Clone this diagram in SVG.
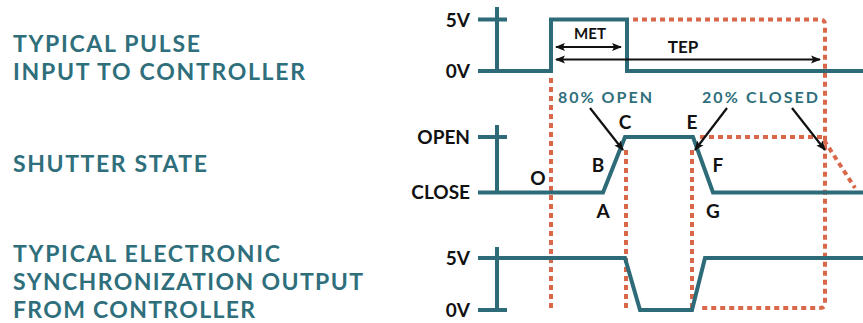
<svg xmlns="http://www.w3.org/2000/svg" width="863" height="323" viewBox="0 0 863 323">
<style>
.ttl{font-family:Lato,"Open Sans",sans-serif;font-weight:bold;font-size:23px;fill:#2f6f7c}
.lvl{font-family:Lato,"Open Sans",sans-serif;font-weight:bold;font-size:19px;fill:#111;text-anchor:end}
.pt{font-family:Lato,"Open Sans",sans-serif;font-weight:bold;font-size:19px;fill:#111;text-anchor:middle}
.sm{font-family:Lato,"Open Sans",sans-serif;font-weight:bold;fill:#111;text-anchor:middle}
.tl{font-family:Lato,"Open Sans",sans-serif;font-weight:bold;font-size:16px;fill:#2f6f7c}
.sig{fill:none;stroke:#2e6b78;stroke-width:4;stroke-linejoin:miter}
.dot{fill:none;stroke:#d9674a;stroke-width:4;stroke-dasharray:5 4}
.arr{fill:none;stroke:#111;stroke-width:2.2}
</style>
<defs>
<marker id="ah" viewBox="0 0 10 10" refX="9" refY="5" markerWidth="4.5" markerHeight="4.5" orient="auto-start-reverse" markerUnits="strokeWidth">
<path d="M0,1 L10,5 L0,9 L2,5 z" fill="#111"/>
</marker>
</defs>
<g id="titles">
<text class="ttl" x="13" y="52" textLength="187">TYPICAL PULSE</text>
<text class="ttl" x="13" y="80" textLength="292">INPUT TO CONTROLLER</text>
<text class="ttl" x="13" y="172" textLength="194">SHUTTER STATE</text>
<text class="ttl" x="13" y="262" textLength="267">TYPICAL ELECTRONIC</text>
<text class="ttl" x="13" y="290" textLength="350">SYNCHRONIZATION OUTPUT</text>
<text class="ttl" x="13" y="318" textLength="242">FROM CONTROLLER</text>
</g>
<g id="levels">
<text class="lvl" x="470" y="27">5V</text>
<text class="lvl" x="470" y="78">0V</text>
<text class="lvl" x="470" y="144">OPEN</text>
<text class="lvl" x="470" y="199">CLOSE</text>
<text class="lvl" x="470" y="265">5V</text>
<text class="lvl" x="470" y="317">0V</text>
</g>
<g id="guides">
<path class="dot" d="M551,78 V310"/>
<path class="dot" d="M626,150 V310"/>
<path class="dot" d="M692,150 V310"/>
<path class="dot" d="M633,19.5 H820 Q825,19.5 825,25 V303 Q825,308 820,308 H700"/>
<path class="dot" d="M700,137 H822 L855,188"/>
</g>
<g id="signals">
<path class="sig" d="M497,7 V71 M478,19.5 H507 M478,71 H551 V19.5 H627 V71 H863"/>
<path class="sig" d="M497,125 V192.5 M478,137 H507 M478,192.5 H603 L625,137 H693 L713,192.5 H863"/>
<path class="sig" d="M497,247 V310 M478,310 H507 M478,258 H625 L640,310 H692 L705,258 H863"/>
</g>
<g id="connectors">
<path class="arr" d="M556,47 H621" marker-start="url(#ah)" marker-end="url(#ah)"/>
<path class="arr" d="M556,59.5 H820" marker-start="url(#ah)" marker-end="url(#ah)"/>
<path class="arr" d="M590,108 L623,150" marker-end="url(#ah)"/>
<path class="arr" d="M727,108 L695,150" marker-end="url(#ah)"/>
<path class="arr" d="M792,108 L825,150" marker-end="url(#ah)"/>
</g>
<g id="labels">
<text class="sm" x="590" y="39" font-size="15">MET</text>
<text class="sm" x="683" y="53" font-size="17">TEP</text>
<text class="tl" x="558" y="103" textLength="94">80% OPEN</text>
<text class="tl" x="702" y="103" textLength="116">20% CLOSED</text>
<text class="pt" x="625" y="129">C</text>
<text class="pt" x="692" y="129">E</text>
<text class="pt" x="598" y="172">B</text>
<text class="pt" x="718" y="172">F</text>
<text class="pt" x="538" y="185">O</text>
<text class="pt" x="603" y="218">A</text>
<text class="pt" x="713" y="218">G</text>
</g>
</svg>
